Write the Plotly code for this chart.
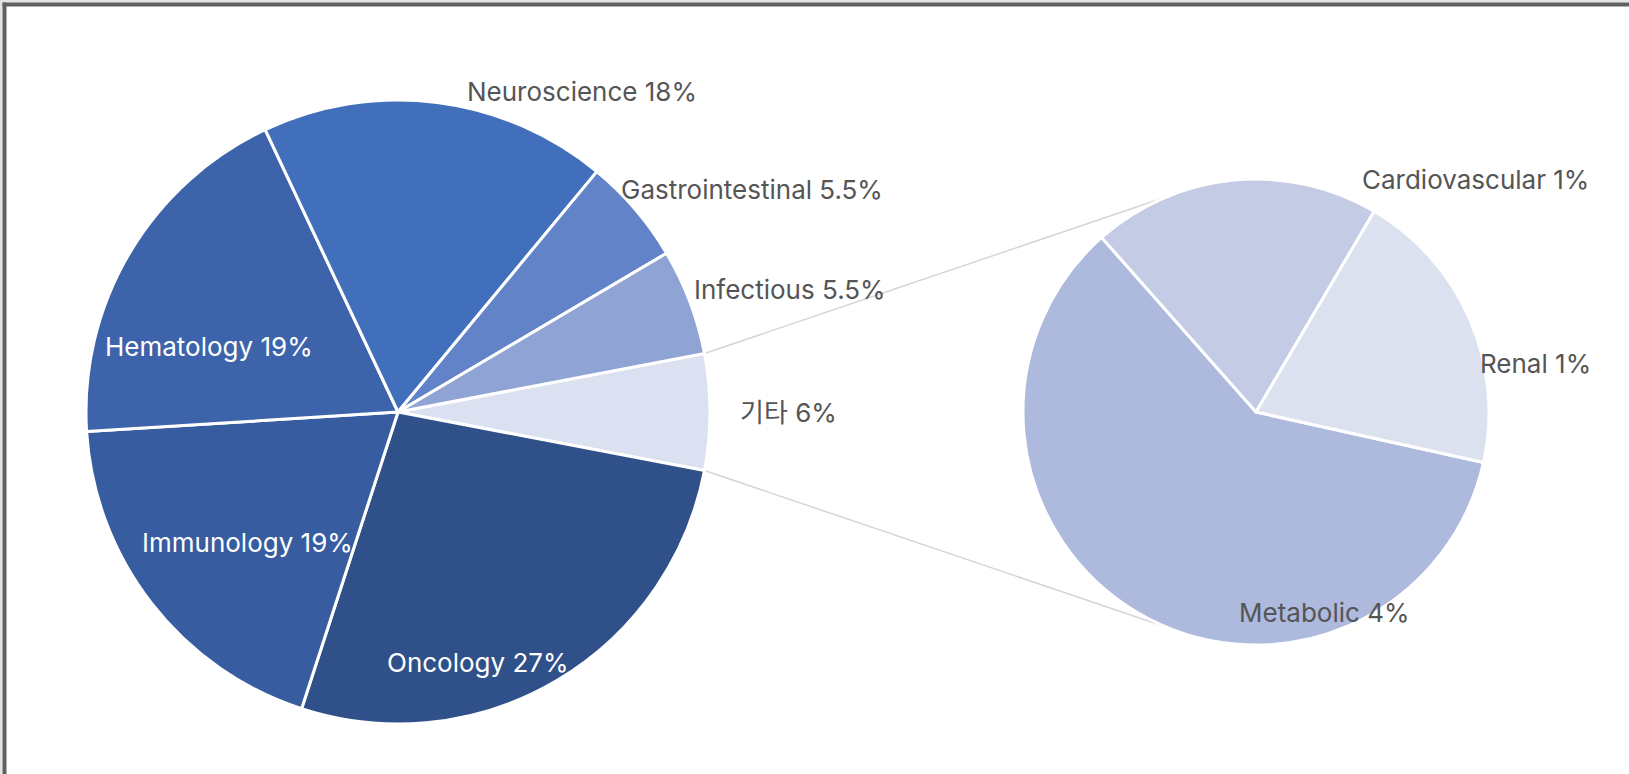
import math
import plotly.graph_objects as go

# ---------------- data ----------------
main_labels = ["기타", "Oncology", "Immunology", "Hematology", "Neuroscience", "Gastrointestinal", "Infectious"]
main_values = [6, 27, 19, 19, 18, 5.5, 5.5]

detail_labels = ["Metabolic", "Cardiovascular", "Renal"]
detail_values = [3.6, 1.2, 1.2]

# ---------------- style ----------------
main_colors = ["#dbe1f0", "#2f5089", "#375c9f", "#3d64aa", "#426fbc", "#6283c7", "#8fa3d4"]
detail_colors = ["#adb9dd", "#c4cce5", "#dce1f0"]

W, H = 1629, 774
MAIN = dict(cx=398, cy=412, r=312)
DET = dict(cx=1256, cy=412, r=233)
DET_ROTATION = 102.5
CONNECT_ANGLE = 112.5  # degrees on the detail pie where connector lines end

FONT = "Inter, 'Noto Sans CJK KR', sans-serif"
FONT_SIZE = 26
DARK = "#555555"

# label placement, in units of pie radius from pie centre: (dx, dy, xanchor, color)
main_label_pos = {
    "Neuroscience": (0.215, -1.027, "left", DARK),
    "Gastrointestinal": (0.707, -0.714, "left", DARK),
    "Infectious": (0.942, -0.392, "left", DARK),
    "기타": (1.089, 0.0, "left", DARK),
    "Hematology": (-0.606, -0.209, "center", "white"),
    "Immunology": (-0.482, 0.417, "center", "white"),
    "Oncology": (0.256, 0.803, "center", "white"),
}
detail_label_pos = {
    "Cardiovascular": (0.448, -1.0, "left", DARK),
    "Renal": (0.951, -0.208, "left", DARK),
    "Metabolic": (0.292, 0.862, "center", DARK),
}


def px(x):
    return x / W


def py(y):
    return 1 - y / H


def domain(p):
    return dict(x=[px(p["cx"] - p["r"]), px(p["cx"] + p["r"])],
                y=[py(p["cy"] + p["r"]), py(p["cy"] - p["r"])])


main_total = sum(main_values)
other_half = main_values[0] / main_total * 360 / 2
main_rotation = 90 - other_half

fig = go.Figure()
fig.add_trace(go.Pie(
    labels=main_labels, values=main_values, sort=False, direction="clockwise",
    rotation=main_rotation, domain=domain(MAIN),
    marker=dict(colors=main_colors, line=dict(color="white", width=3)),
    textinfo="none", hoverinfo="label+value", showlegend=False,
))
fig.add_trace(go.Pie(
    labels=detail_labels, values=detail_values, sort=False, direction="clockwise",
    rotation=DET_ROTATION, domain=domain(DET),
    marker=dict(colors=detail_colors, line=dict(color="white", width=3)),
    textinfo="none", hoverinfo="label+value", showlegend=False,
))

annotations = []
for lab, val in zip(main_labels, main_values):
    dx, dy, xa, col = main_label_pos[lab]
    annotations.append(dict(
        x=px(MAIN["cx"] + dx * MAIN["r"]), y=py(MAIN["cy"] + dy * MAIN["r"]),
        xref="paper", yref="paper", xanchor=xa, yanchor="middle", showarrow=False,
        text=f"{lab} {val:g}%", font=dict(family=FONT, size=FONT_SIZE, color=col)))
for lab, val in zip(detail_labels, detail_values):
    dx, dy, xa, col = detail_label_pos[lab]
    annotations.append(dict(
        x=px(DET["cx"] + dx * DET["r"]), y=py(DET["cy"] + dy * DET["r"]),
        xref="paper", yref="paper", xanchor=xa, yanchor="middle", showarrow=False,
        text=f"{lab} {val:.0f}%", font=dict(family=FONT, size=FONT_SIZE, color=col)))

shapes = []
# connector lines between the "기타" slice and the detail pie
for sgn in (1, -1):
    a = math.radians(sgn * other_half)
    b = math.radians(sgn * CONNECT_ANGLE)
    x0 = MAIN["cx"] + MAIN["r"] * math.cos(a)
    y0 = MAIN["cy"] - MAIN["r"] * math.sin(a)
    x1 = DET["cx"] + DET["r"] * math.cos(b)
    y1 = DET["cy"] - DET["r"] * math.sin(b)
    shapes.append(dict(type="line", xref="paper", yref="paper", layer="below",
                       x0=px(x0), y0=py(y0), x1=px(x1), y1=py(y1),
                       line=dict(color="#d6d6d6", width=1.5)))

# frame: light outer strip + dark border on top and left
for (x0, y0, x1, y1, c) in [
    (0, 0, W, 2.5, "#e4e4e4"), (0, 0, 2.5, H, "#e4e4e4"),
    (2.5, 2.5, W, 6.5, "#616161"), (2.5, 2.5, 6.5, H, "#616161"),
]:
    shapes.append(dict(type="rect", xref="paper", yref="paper", layer="above",
                       x0=px(x0), x1=px(x1), y0=py(y1), y1=py(y0),
                       fillcolor=c, line=dict(width=0)))

fig.update_layout(
    width=W, height=H, margin=dict(l=0, r=0, t=0, b=0),
    paper_bgcolor="white", plot_bgcolor="white",
    annotations=annotations, shapes=shapes,
    font=dict(family=FONT),
)

fig.write_html("out.html", config={"displayModeBar": False},
               post_script="document.body.style.margin='0';document.body.style.overflow='hidden';")
